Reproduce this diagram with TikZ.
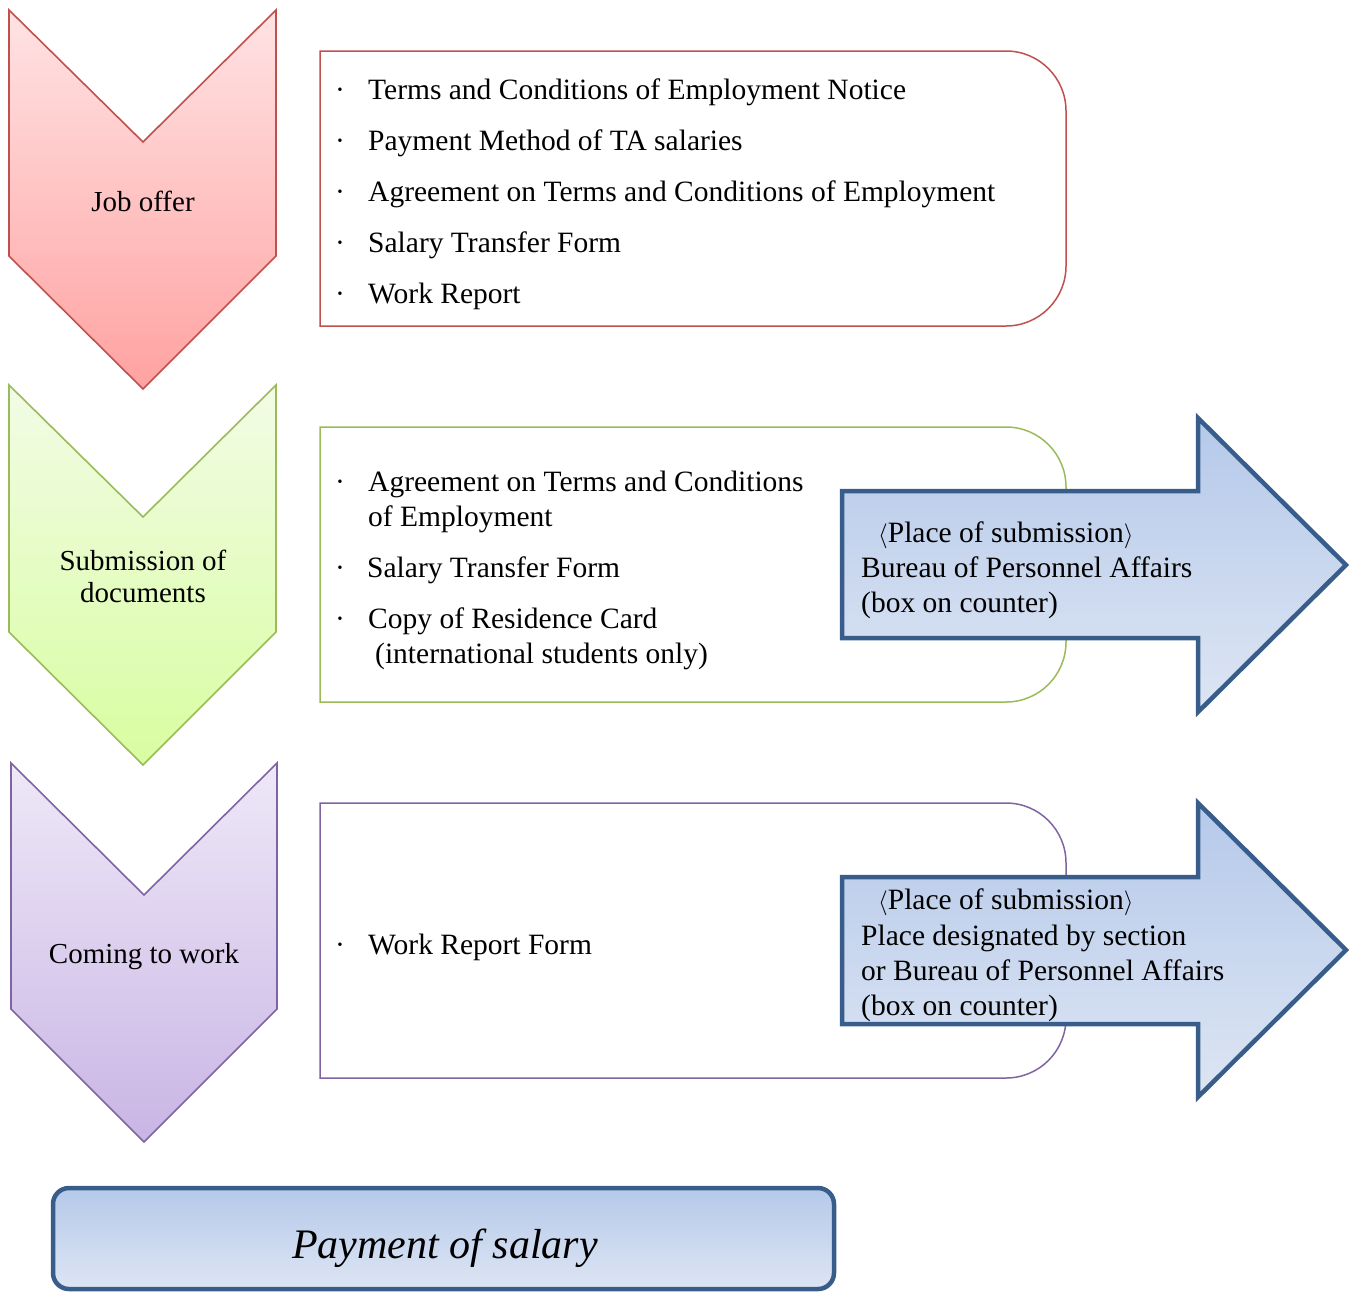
\documentclass[tikz,border=0pt]{standalone}
\usepackage{fontspec}
\setmainfont{Liberation Serif}
\begin{document}
\begin{tikzpicture}[x=1pt,y=-1pt,
  txt/.style={inner sep=0pt, anchor=base west, font=\fontsize{29.5}{35}\selectfont},
  lbl/.style={inner sep=0pt, anchor=base, font=\fontsize{29}{34}\selectfont},
  bul/.style={inner sep=0pt, anchor=base, font=\fontsize{29.5}{35}\selectfont},
  chev/.style={line width=1.6pt, line join=miter},
  docbox/.style={line width=1.5pt},
  bluearrow/.style={draw=arrowblue, line width=4.5pt, line join=miter, top color=bluetop, bottom color=bluebot},
]
\definecolor{redline}{HTML}{C0504D}
\definecolor{greenline}{HTML}{9BBB59}
\definecolor{purpleline}{HTML}{8064A2}
\definecolor{arrowblue}{HTML}{385D8A}
\definecolor{bluetop}{HTML}{B5C9EA}
\definecolor{bluebot}{HTML}{DDE5F3}
\definecolor{redtop}{HTML}{FFE3E4}
\definecolor{redbot}{HTML}{FFA2A1}
\definecolor{greentop}{HTML}{F2FCE6}
\definecolor{greenbot}{HTML}{D8FDA0}
\definecolor{purpletop}{HTML}{EEE8F7}
\definecolor{purplebot}{HTML}{C9B5E5}

\useasboundingbox (0,0) rectangle (1354,1291);

% chevrons
\path[chev, draw=redline, top color=redtop, bottom color=redbot]
  (9,10) -- (143,142) -- (276,10) -- (276,256) -- (143,389) -- (9,256) -- cycle;
\path[chev, draw=greenline, top color=greentop, bottom color=greenbot]
  (9,385) -- (143,517) -- (276,385) -- (276,632) -- (143,765) -- (9,632) -- cycle;
\path[chev, draw=purpleline, top color=purpletop, bottom color=purplebot]
  (11,763) -- (144,895) -- (277,763) -- (277,1009) -- (144,1142) -- (11,1009) -- cycle;

\node[lbl] (job) at (143,211) {Job offer};
\node[lbl] (sub1) at (143,570) {Submission of};
\node[lbl] (sub2) at (143,602) {documents};
\node[lbl] (come) at (144,963) {Coming to work};

% document boxes
\draw[docbox, draw=redline] (320,51) -- (1006,51) arc(90:0:60pt) -- (1066,266) arc(0:-90:60pt) -- (320,326) -- cycle;
\draw[docbox, draw=greenline] (320,427) -- (1006,427) arc(90:0:60pt) -- (1066,642) arc(0:-90:60pt) -- (320,702) -- cycle;
\draw[docbox, draw=purpleline] (320,803) -- (1006,803) arc(90:0:60pt) -- (1066,1018) arc(0:-90:60pt) -- (320,1078) -- cycle;

% red box items
\foreach \yy/\tt [count=\i] in {99/Terms and Conditions of Employment Notice,
  150/Payment Method of TA salaries,
  201/Agreement on Terms and Conditions of Employment,
  252/Salary Transfer Form,
  303/Work Report}{
  \node[bul] (rb\i) at (340,\yy) {·};
  \node[txt] (rt\i) at (368,\yy) {\tt};
}

% green box items
\node[bul] (gb1) at (340,491) {·};
\node[txt] (gt1) at (368,491) {Agreement on Terms and Conditions};
\node[txt] (gt1b) at (368,526) {of Employment};
\node[bul] (gb2) at (340,577) {·};
\node[txt] (gt2) at (367,577) {Salary Transfer Form};
\node[bul] (gb3) at (340,628) {·};
\node[txt] (gt3) at (368,628) {Copy of Residence Card};
\node[txt] (gt3b) at (375,663) {(international students only)};

% purple box item
\node[bul] (pb1) at (340,954) {·};
\node[txt] (pt1) at (368,954) {Work Report Form};

% blue arrows
\path[bluearrow] (842,491) -- (1198,491) -- (1198,418) -- (1346,565) -- (1198,712) -- (1198,638) -- (842,638) -- cycle;
\path[bluearrow] (842,877) -- (1198,877) -- (1198,803) -- (1346,950) -- (1198,1097) -- (1198,1024) -- (842,1024) -- cycle;

\node[txt] (a1l1) at (878,542) {$\langle$Place of submission$\rangle$};
\node[txt] (a1l2) at (861,577) {Bureau of Personnel Affairs};
\node[txt] (a1l3) at (861,612) {(box on counter)};

\node[txt] (a2l1) at (878,909) {$\langle$Place of submission$\rangle$};
\node[txt] (a2l2) at (861,945) {Place designated by section};
\node[txt] (a2l3) at (861,980) {or Bureau of Personnel Affairs};
\node[txt] (a2l4) at (861,1015) {(box on counter)};

% payment box
\path[draw=arrowblue, line width=4.5pt, rounded corners=16pt, top color=bluetop, bottom color=bluebot]
  (53,1188) rectangle (834,1289);
\node[inner sep=0pt, anchor=base, font=\fontsize{42}{48}\selectfont\itshape] (pay) at (445,1258) {Payment of salary};
\end{tikzpicture}
\end{document}
